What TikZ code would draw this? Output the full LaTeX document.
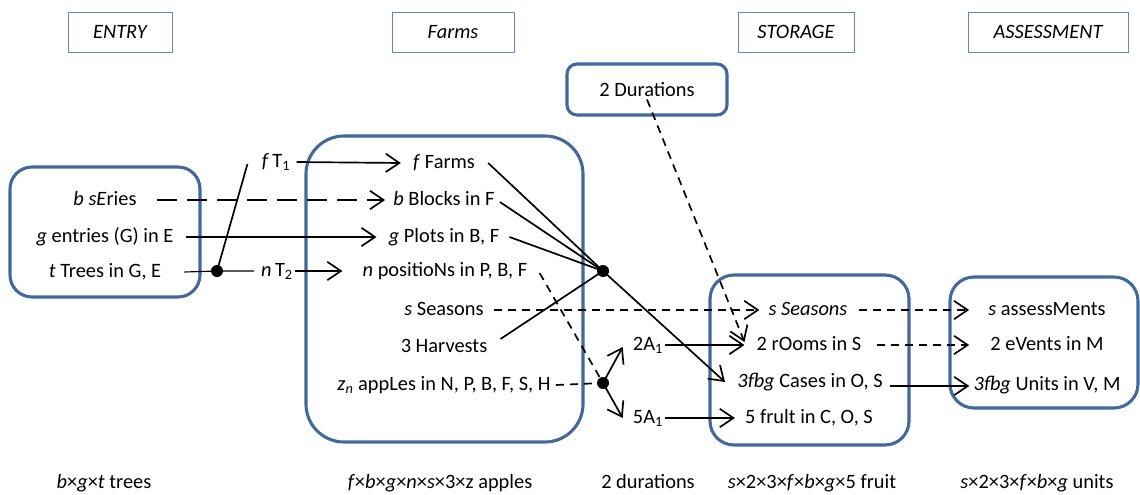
\documentclass[tikz,border=0pt]{standalone}
\usepackage{fontspec}
\setmainfont{Carlito}
\usetikzlibrary{arrows.meta, positioning, calc}
\definecolor{steel}{HTML}{41699B}
\definecolor{sky}{HTML}{5B8AC6}

\begin{document}
\begin{tikzpicture}[
      x=0.25mm, y=-0.25mm,
      font=\fontsize{14.5}{17}\selectfont,
      item/.style={inner sep=0pt, text height=10.5pt, text depth=3pt},
      head/.style={draw=sky, line width=0.6pt, minimum height=10mm, font=\fontsize{14.5}{17}\selectfont\itshape},
      stage/.style={draw=steel, line width=2.2pt},
      hub/.style={circle, fill, inner sep=0pt, minimum size=3mm},
      flow/.style={-{Straight Barb[length=3.4mm, width=4.6mm]}, line width=1.2pt},
      dflow/.style={flow, dash pattern=on 2mm off 1.5mm},
      link/.style={line width=1.2pt},
      dlink/.style={link, dash pattern=on 2mm off 1.5mm}
    ]
    \useasboundingbox (0,0) rectangle (1140,495);

    % stage headers
    \node[head, minimum width=26mm] (hentry) at (120,32) {ENTRY};
    \node[head, minimum width=30.5mm] (hfarm) at (453,32) {Farms};
    \node[head, minimum width=29mm] (hstore) at (796,32) {STORAGE};
    \node[head, minimum width=40mm] (hassess) at (1048,32) {ASSESSMENT};

    % stage boxes
    \draw[stage, rounded corners=5.5mm] (10,167) rectangle (200,297);
    \draw[stage, rounded corners=9.5mm] (306,136) rectangle (583,442);
    \draw[stage, rounded corners=6mm] (710,275) rectangle (909,445);
    \draw[stage, rounded corners=6mm] (950,277) rectangle (1138,408);
    \node[stage, rounded corners=2.5mm, minimum width=40mm, minimum height=12.75mm] (dur) at (647,89.5) {2 Durations};

    % entry
    \node[item] (ser) at (105,200) {\textit{b sE}ries};
    \node[item] (ent) at (105,237) {\textit{g} entries (G) in E};
    \node[item] (tre) at (105,272) {\textit{t} Trees in G, E};
    \node[hub] (ta) at (217,271) {};
    \node[item] (ft) at (276,162) {\textit{f}\,T\textsubscript{1}};
    \node[item] (nt) at (277,271) {\textit{n}\,T\textsubscript{2}};

    % farms
    \node[item] (far) at (444,163) {\textit{f} Farms};
    \node[item] (blk) at (444,200) {\textit{b} Blocks in F};
    \node[item] (plo) at (444,237) {\textit{g} Plots in B, F};
    \node[item] (pos) at (445,271) {\textit{n} positioNs in P, B, F};
    \node[item] (sea) at (444,310) {\textit{s} Seasons};
    \node[item] (har) at (444,347) {3 Harvests};
    \node[item] (app) at (444,385) {\textit{z}\textsubscript{\textit{n}} appLes in N, P, B, F, S, H};
    \node[hub] (h1) at (603,271) {};
    \node[hub] (h2) at (603,383) {};
    \node[item] (a2) at (648,345) {2A\textsubscript{1}};
    \node[item] (a5) at (648,418) {5A\textsubscript{1}};

    % storage
    \node[item] (ssea) at (808,310) {\textit{s Seasons}};
    \node[item] (roo) at (809,345) {2 rOoms in S};
    \node[item] (cas) at (810,382) {\textit{3fbg} Cases in O, S};
    \node[item] (fru) at (809,418) {5 frult in C, O, S};

    % assessment
    \node[item] (asm) at (1047,310) {\textit{s} assessMents};
    \node[item] (eve) at (1047,345) {2 eVents in M};
    \node[item] (uni) at (1047,385) {\textit{3fbg} Units in V, M};

    % totals
    \node[item] (btree) at (104,483) {\textit{b}×\textit{g}×\textit{t} trees};
    \node[item] (bapple) at (440,483) {\textit{f}×\textit{b}×\textit{g}×\textit{n}×\textit{s}×3×z apples};
    \node[item] (bdur) at (648,483) {2 durations};
    \node[item] (bfruit) at (812,483) {\textit{s}×2×3×\textit{f}×\textit{b}×\textit{g}×5 fruit};
    \node[item] (bunit) at (1037,483) {\textit{s}×2×3×\textit{f}×\textit{b}×\textit{g} units};

    % connectors
    \draw[dflow, dash pattern=on 5mm off 2.5mm] ([xshift=5mm]ser.east) -- ([xshift=-2mm]blk.west);
    \draw[flow] ([xshift=3mm]ent.east) -- ([xshift=-3mm]plo.west);
    \draw[line width=0.8pt] ([xshift=5.75mm]tre.east) -- (ta.center) -- ([xshift=-1.75mm]nt.west);
    \draw[link] (ta.center) -- ([xshift=-3.5mm, yshift=-0.5mm]ft.west);
    \draw[flow] ([xshift=1.5mm]ft.east) -- ([xshift=-3mm]far.west);
    \draw[flow] ([xshift=0.5mm]nt.east) -- ([xshift=-5mm]pos.west);
    \draw[link] ([xshift=3.25mm]far.east) -- (h1.center);
    \draw[link] ([xshift=1.25mm, yshift=-0.5mm]blk.east) -- (h1.center);
    \draw[link] ([xshift=2.5mm]plo.east) -- (h1.center);
    \draw[link] ([xshift=3.25mm, yshift=2mm]har.east) -- (h1.center);
    \draw[flow] (h1.center) -- ([xshift=-3mm]cas.west);
    \draw[dlink] ([xshift=3mm, yshift=-0.5mm]pos.east) -- (h2.center);
    \draw[dlink] ([xshift=1.25mm]app.east) -- (h2.center);
    \draw[flow] (h2.center) -- ([xshift=-2.5mm, yshift=-0.5mm]a2.west);
    \draw[flow] (h2.center) -- ([xshift=-2.5mm]a5.west);
    \draw[flow] ([xshift=0.5mm]a2.east) -- ([xshift=-3mm]roo.west);
    \draw[flow] ([xshift=0.5mm]a5.east) -- ([xshift=-2.5mm]fru.west);
    \draw[dflow] ([yshift=-2.5mm]dur.center) -- ([xshift=-3mm, yshift=0.75mm]roo.west);
    \draw[dflow] ([xshift=2.5mm]sea.east) -- ([xshift=-2.25mm]ssea.west);
    \draw[dflow] ([xshift=2.75mm]ssea.east) -- ([xshift=-4.75mm]asm.west);
    \draw[dflow] ([xshift=3.75mm]roo.east) -- ([xshift=-5.25mm]eve.west);
    \draw[flow] ([xshift=1.75mm, yshift=-1mm]cas.east) -- ([xshift=-1mm, yshift=-0.25mm]uni.west);
  \end{tikzpicture}
\end{document}
